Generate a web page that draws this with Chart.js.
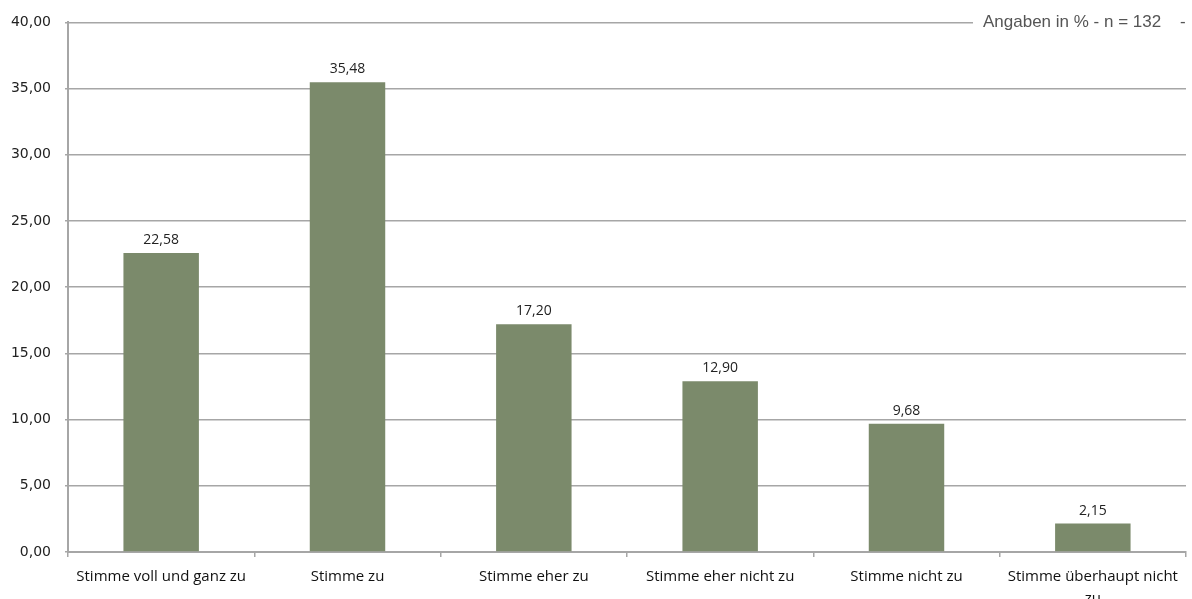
<!DOCTYPE html>
<html lang="de">
<head>
<meta charset="utf-8">
<title>Zustimmung</title>
<script src="https://cdn.jsdelivr.net/npm/chart.js@4.4.1/dist/chart.umd.min.js"></script>
<style>
  html, body { margin: 0; padding: 0; background: #fff; }
  #wrap { width: 1192px; height: 599px; position: relative; }
</style>
</head>
<body>
<div id="wrap"><canvas id="chart" width="1192" height="599"></canvas></div>
<script>
const categories = [
  "Stimme voll und ganz zu",
  "Stimme zu",
  "Stimme eher zu",
  "Stimme eher nicht zu",
  "Stimme nicht zu",
  ["Stimme überhaupt nicht", "zu"],
];
const shares = [22.58, 35.48, 17.20, 12.90, 9.68, 2.15];
const yTicks = [0, 5, 10, 15, 20, 25, 30, 35, 40];
const note = "Angaben in % - n = 132";

const fmt = (v) => v.toFixed(2).replace(".", ",");
const gridGray = "#a6a6a6";

// value labels above each bar
const barLabels = {
  id: "barLabels",
  afterDatasetsDraw(chart) {
    const { ctx } = chart;
    const meta = chart.getDatasetMeta(0);
    ctx.save();
    ctx.font = "14px 'Open Sans', sans-serif";
    ctx.fillStyle = "#222";
    ctx.textAlign = "center";
    ctx.textBaseline = "bottom";
    meta.data.forEach((bar, i) => {
      ctx.fillText(fmt(shares[i]), bar.x, bar.y - 6);
    });
    ctx.restore();
  },
};

// note in the top right corner, cutting through the top grid line
const cornerNote = {
  id: "cornerNote",
  afterDraw(chart) {
    const { ctx } = chart;
    const y = chart.scales.y.getPixelForValue(40);
    ctx.save();
    ctx.fillStyle = "#fff";
    ctx.fillRect(973, y - 12, 1192 - 973, 24);
    ctx.font = "17px 'Liberation Sans', Arial, sans-serif";
    ctx.fillStyle = "#555";
    ctx.textAlign = "left";
    ctx.textBaseline = "middle";
    ctx.fillText(note, 983, y);
    ctx.fillText("-", 1180, y);
    ctx.restore();
  },
};

new Chart(document.getElementById("chart"), {
  type: "bar",
  data: {
    labels: categories,
    datasets: [{
      data: shares,
      backgroundColor: "#7b8a6b",
      borderWidth: 0,
      categoryPercentage: 1,
      barPercentage: 0.405,
    }],
  },
  options: {
    responsive: false,
    animation: false,
    layout: { padding: { top: 16, right: 6, left: 0, bottom: 0 } },
    plugins: {
      legend: { display: false },
      tooltip: { enabled: false },
    },
    scales: {
      x: {
        offset: true,
        grid: {
          display: true,
          offset: true,
          drawOnChartArea: false,
          drawTicks: true,
          tickLength: 5,
          color: gridGray,
          lineWidth: 1.5,
        },
        border: { color: gridGray, width: 2 },
        ticks: {
          color: "#111",
          font: { family: "'Open Sans', sans-serif", size: 15, lineHeight: 1.5 },
          maxRotation: 0,
          autoSkip: false,
          padding: 8,
        },
        afterFit(scale) { scale.height = 47; },
      },
      y: {
        min: 0,
        max: 40,
        afterBuildTicks(scale) {
          scale.ticks = yTicks.map((v) => ({ value: v }));
        },
        grid: {
          color: gridGray,
          lineWidth: 1.5,
          drawTicks: true,
          tickLength: 3,
        },
        border: { color: gridGray, width: 2 },
        ticks: {
          color: "#222",
          font: { family: "'DejaVu Sans', sans-serif", size: 14 },
          padding: 14,
          callback: (v) => fmt(v),
        },
        afterFit(scale) { scale.width = 68; },
      },
    },
  },
  plugins: [barLabels, cornerNote],
});
</script>
</body>
</html>
